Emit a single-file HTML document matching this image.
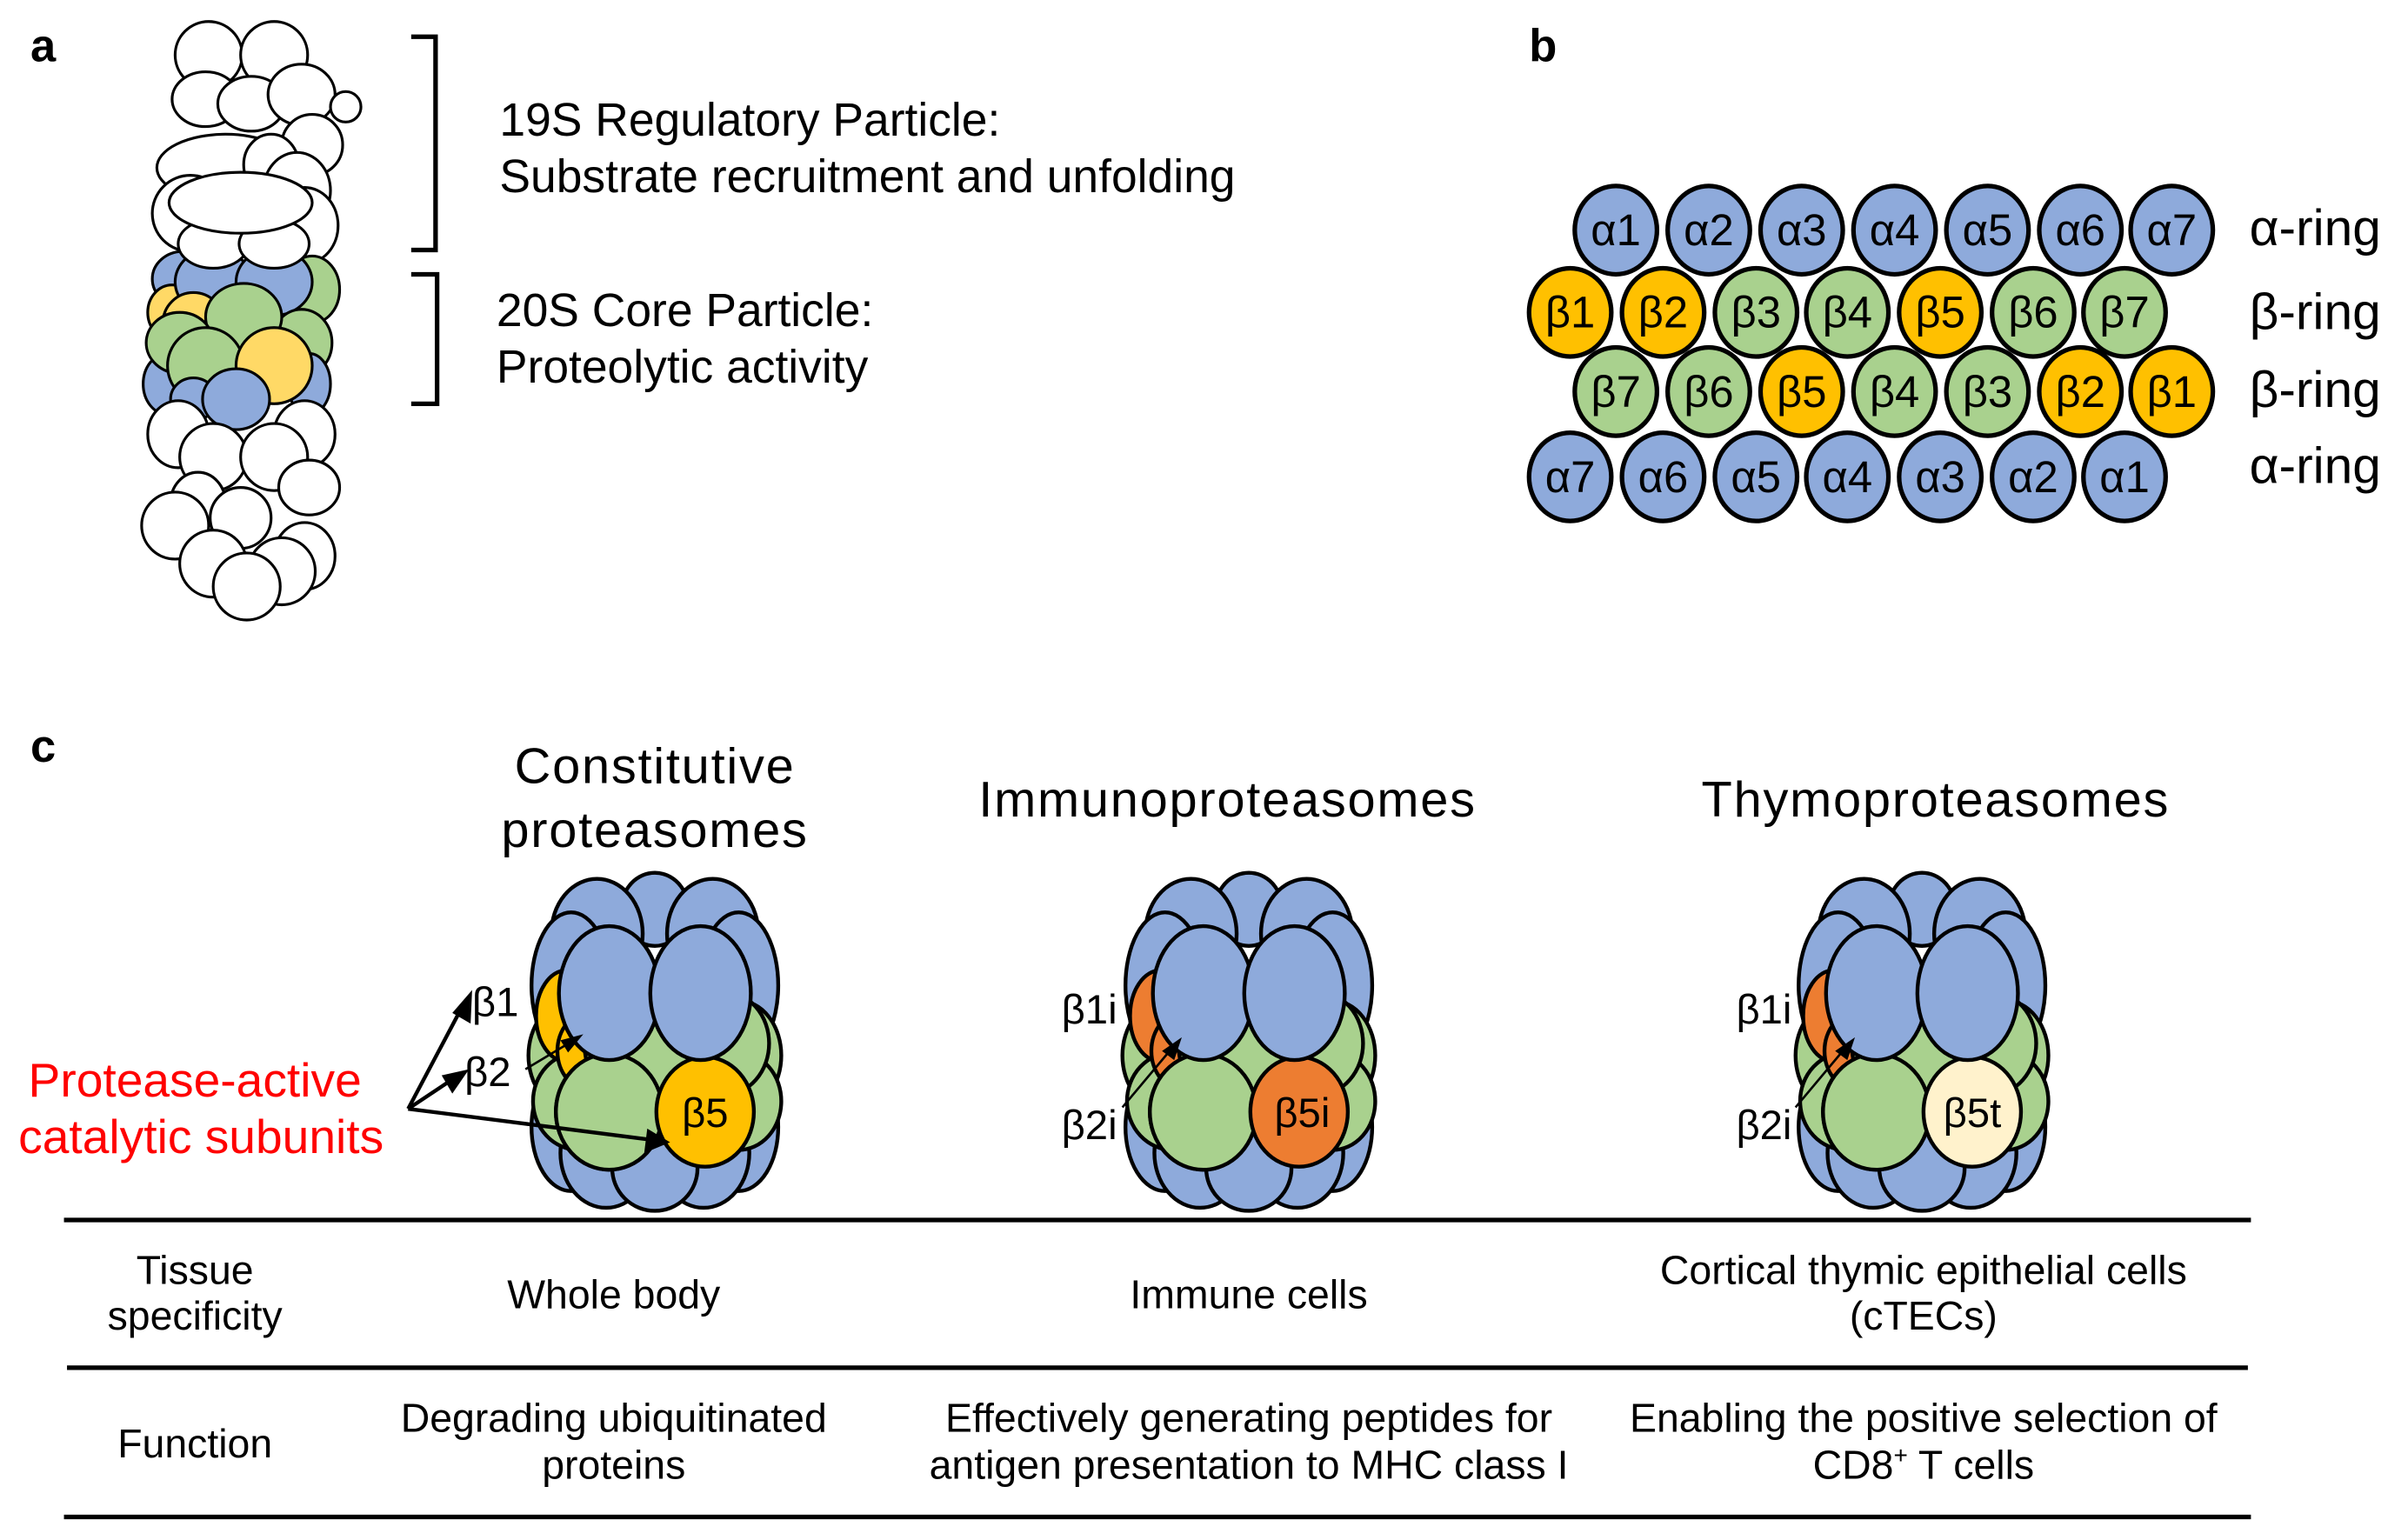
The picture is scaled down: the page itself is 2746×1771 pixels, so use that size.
<!DOCTYPE html>
<html><head><meta charset="utf-8"><style>
html,body{margin:0;padding:0;background:#fff;}
svg{display:block;}
text{font-family:"Liberation Sans",Arial,sans-serif;fill:#000;}
</style></head><body>
<svg width="2746" height="1771" viewBox="0 0 1568 1011" xmlns="http://www.w3.org/2000/svg">
<defs>
<g id="body" stroke="#000" stroke-width="2.5">
  <g fill="#8eaadb">
    <ellipse cx="0" cy="-88" rx="22" ry="24"/>
    <ellipse cx="-38" cy="-72" rx="30" ry="36"/>
    <ellipse cx="38" cy="-72" rx="30" ry="36"/>
    <ellipse cx="-55" cy="-38" rx="26" ry="48"/>
    <ellipse cx="55" cy="-38" rx="26" ry="48"/>
    <ellipse cx="-55" cy="55" rx="26" ry="42"/>
    <ellipse cx="55" cy="55" rx="26" ry="42"/>
    <ellipse cx="-32" cy="72" rx="30" ry="36"/>
    <ellipse cx="32" cy="72" rx="30" ry="36"/>
    <ellipse cx="0" cy="82" rx="28" ry="28"/>
  </g>
  <g fill="#a9d18e">
    <ellipse cx="-55" cy="8" rx="28" ry="36"/>
    <ellipse cx="55" cy="8" rx="28" ry="36"/>
    <ellipse cx="-50" cy="38" rx="30" ry="32"/>
    <ellipse cx="55" cy="38" rx="28" ry="32"/>
    <ellipse cx="-8" cy="3" rx="38" ry="34"/>
    <ellipse cx="45" cy="0" rx="30" ry="34"/>
    <ellipse cx="-30" cy="45" rx="35" ry="38"/>
  </g>
</g>
<g id="topfront" stroke="#000" stroke-width="2.5" fill="#8eaadb">
  <ellipse cx="-30" cy="-33" rx="33" ry="44"/>
  <ellipse cx="30" cy="-33" rx="33" ry="44"/>
</g>
</defs>

<text x="20" y="40" font-size="30" font-weight="bold">a</text>
<text x="1004" y="40" font-size="30" font-weight="bold">b</text>
<text x="20" y="500" font-size="30" font-weight="bold">c</text>

<g stroke="#000" stroke-width="1.8" fill="#fff">
  <circle cx="137" cy="36" r="22"/><circle cx="180" cy="36" r="22"/>
  <ellipse cx="135" cy="65" rx="22" ry="18"/><ellipse cx="165" cy="68" rx="22" ry="18"/><ellipse cx="198" cy="62" rx="22" ry="20"/>
  <circle cx="227" cy="70" r="10"/>
  <ellipse cx="205" cy="95" rx="20" ry="20"/>
  <ellipse cx="148" cy="110" rx="45" ry="22"/>
  <ellipse cx="178" cy="108" rx="18" ry="20"/>
  <ellipse cx="195" cy="125" rx="22" ry="25"/>
  <ellipse cx="125" cy="140" rx="25" ry="25"/>
  <ellipse cx="200" cy="148" rx="22" ry="25"/>
</g>
<g stroke="#000" stroke-width="1.8">
  <ellipse cx="120" cy="183" rx="20" ry="18" fill="#8eaadb"/>
  <ellipse cx="205" cy="190" rx="18" ry="22" fill="#a9d18e"/>
  <ellipse cx="113" cy="205" rx="16" ry="18" fill="#ffd966"/>
  <ellipse cx="140" cy="185" rx="25" ry="22" fill="#8eaadb"/>
  <ellipse cx="180" cy="185" rx="25" ry="22" fill="#8eaadb"/>
  <ellipse cx="127" cy="212" rx="20" ry="20" fill="#ffd966"/>
  <ellipse cx="198" cy="225" rx="20" ry="22" fill="#a9d18e"/>
  <ellipse cx="160" cy="208" rx="25" ry="22" fill="#a9d18e"/>
  <ellipse cx="110" cy="252" rx="16" ry="20" fill="#8eaadb"/>
  <ellipse cx="203" cy="252" rx="14" ry="20" fill="#8eaadb"/>
  <ellipse cx="118" cy="225" rx="22" ry="20" fill="#a9d18e"/>
  <ellipse cx="135" cy="240" rx="25" ry="25" fill="#a9d18e"/>
  <ellipse cx="180" cy="240" rx="25" ry="25" fill="#ffd966"/>
  <ellipse cx="127" cy="262" rx="15" ry="14" fill="#8eaadb"/>
  <ellipse cx="155" cy="262" rx="22" ry="20" fill="#8eaadb"/>
</g>
<g stroke="#000" stroke-width="1.8" fill="#fff">
  <ellipse cx="140" cy="160" rx="23" ry="16"/>
  <ellipse cx="180" cy="160" rx="23" ry="16"/>
  <ellipse cx="158" cy="133" rx="47" ry="20"/>
</g>
<g stroke="#000" stroke-width="1.8" fill="#fff">
  <ellipse cx="117" cy="285" rx="20" ry="22"/>
  <ellipse cx="200" cy="285" rx="20" ry="22"/>
  <ellipse cx="140" cy="300" rx="22" ry="22"/>
  <ellipse cx="180" cy="300" rx="22" ry="22"/>
  <ellipse cx="203" cy="320" rx="20" ry="18"/>
  <ellipse cx="130" cy="330" rx="18" ry="20"/>
  <ellipse cx="158" cy="340" rx="20" ry="20"/>
  <ellipse cx="115" cy="345" rx="22" ry="22"/>
  <ellipse cx="200" cy="365" rx="20" ry="22"/>
  <ellipse cx="140" cy="370" rx="22" ry="22"/>
  <ellipse cx="185" cy="375" rx="22" ry="22"/>
  <ellipse cx="162" cy="385" rx="22" ry="22"/>
</g>

<path d="M270 24 H286 V164 H270" fill="none" stroke="#000" stroke-width="3"/>
<path d="M270 180 H287 V265 H270" fill="none" stroke="#000" stroke-width="3"/>
<g font-size="30.5">
<text x="328" y="89">19S Regulatory Particle:</text>
<text x="328" y="126">Substrate recruitment and unfolding</text>
<text x="326" y="214">20S Core Particle:</text>
<text x="326" y="251">Proteolytic activity</text>
</g>

<g stroke="#000" stroke-width="3">
  <g fill="#8eaadb">
    <ellipse cx="1061" cy="151" rx="27" ry="29"/><ellipse cx="1122" cy="151" rx="27" ry="29"/><ellipse cx="1183" cy="151" rx="27" ry="29"/><ellipse cx="1244" cy="151" rx="27" ry="29"/><ellipse cx="1305" cy="151" rx="27" ry="29"/><ellipse cx="1366" cy="151" rx="27" ry="29"/><ellipse cx="1426" cy="151" rx="27" ry="29"/>
    <ellipse cx="1031" cy="313" rx="27" ry="29"/><ellipse cx="1092" cy="313" rx="27" ry="29"/><ellipse cx="1153" cy="313" rx="27" ry="29"/><ellipse cx="1213" cy="313" rx="27" ry="29"/><ellipse cx="1274" cy="313" rx="27" ry="29"/><ellipse cx="1335" cy="313" rx="27" ry="29"/><ellipse cx="1395" cy="313" rx="27" ry="29"/>
  </g>
  <ellipse cx="1031" cy="205" rx="27" ry="29" fill="#ffc000"/><ellipse cx="1092" cy="205" rx="27" ry="29" fill="#ffc000"/><ellipse cx="1153" cy="205" rx="27" ry="29" fill="#a9d18e"/><ellipse cx="1213" cy="205" rx="27" ry="29" fill="#a9d18e"/><ellipse cx="1274" cy="205" rx="27" ry="29" fill="#ffc000"/><ellipse cx="1335" cy="205" rx="27" ry="29" fill="#a9d18e"/><ellipse cx="1395" cy="205" rx="27" ry="29" fill="#a9d18e"/>
  <ellipse cx="1061" cy="257" rx="27" ry="29" fill="#a9d18e"/><ellipse cx="1122" cy="257" rx="27" ry="29" fill="#a9d18e"/><ellipse cx="1183" cy="257" rx="27" ry="29" fill="#ffc000"/><ellipse cx="1244" cy="257" rx="27" ry="29" fill="#a9d18e"/><ellipse cx="1305" cy="257" rx="27" ry="29" fill="#a9d18e"/><ellipse cx="1366" cy="257" rx="27" ry="29" fill="#ffc000"/><ellipse cx="1426" cy="257" rx="27" ry="29" fill="#ffc000"/>
</g>
<g font-size="29" text-anchor="middle">
  <text x="1061" y="161">α1</text><text x="1122" y="161">α2</text><text x="1183" y="161">α3</text><text x="1244" y="161">α4</text><text x="1305" y="161">α5</text><text x="1366" y="161">α6</text><text x="1426" y="161">α7</text>
  <text x="1031" y="215">β1</text><text x="1092" y="215">β2</text><text x="1153" y="215">β3</text><text x="1213" y="215">β4</text><text x="1274" y="215">β5</text><text x="1335" y="215">β6</text><text x="1395" y="215">β7</text>
  <text x="1061" y="267">β7</text><text x="1122" y="267">β6</text><text x="1183" y="267">β5</text><text x="1244" y="267">β4</text><text x="1305" y="267">β3</text><text x="1366" y="267">β2</text><text x="1426" y="267">β1</text>
  <text x="1031" y="323">α7</text><text x="1092" y="323">α6</text><text x="1153" y="323">α5</text><text x="1213" y="323">α4</text><text x="1274" y="323">α3</text><text x="1335" y="323">α2</text><text x="1395" y="323">α1</text>
</g>
<g font-size="33.5">
  <text x="1477" y="161">α-ring</text><text x="1477" y="216">β-ring</text><text x="1477" y="267">β-ring</text><text x="1477" y="317">α-ring</text>
</g>

<g font-size="33" text-anchor="middle" letter-spacing="1">
  <text x="430" y="514">Constitutive</text>
  <text x="430" y="556">proteasomes</text>
  <text x="806" y="536">Immunoproteasomes</text>
  <text x="1271" y="536">Thymoproteasomes</text>
</g>

<g transform="translate(430,685)">
  <use href="#body"/>
  <g stroke="#000" stroke-width="2.5">
    <ellipse cx="-58" cy="-18" rx="20" ry="30" fill="#ffc000"/>
    <ellipse cx="-42" cy="5" rx="22" ry="26" fill="#ffc000"/>
    <ellipse cx="-8" cy="3" rx="38" ry="34" fill="#a9d18e"/>
    <ellipse cx="-30" cy="45" rx="35" ry="38" fill="#a9d18e"/>
    <ellipse cx="33" cy="45" rx="32" ry="36" fill="#ffc000"/>
  </g>
  <use href="#topfront"/>
  <text x="33" y="55" font-size="27" text-anchor="middle">β5</text>
</g>
<g transform="translate(820,685)">
  <use href="#body"/>
  <g stroke="#000" stroke-width="2.5">
    <ellipse cx="-58" cy="-18" rx="20" ry="30" fill="#ed7d31"/>
    <ellipse cx="-42" cy="5" rx="22" ry="26" fill="#ed7d31"/>
    <ellipse cx="-8" cy="3" rx="38" ry="34" fill="#a9d18e"/>
    <ellipse cx="-30" cy="45" rx="35" ry="38" fill="#a9d18e"/>
    <ellipse cx="33" cy="45" rx="32" ry="36" fill="#ed7d31"/>
  </g>
  <use href="#topfront"/>
  <text x="35" y="55" font-size="27" text-anchor="middle">β5i</text>
</g>
<g transform="translate(1262,685)">
  <use href="#body"/>
  <g stroke="#000" stroke-width="2.5">
    <ellipse cx="-58" cy="-18" rx="20" ry="30" fill="#ed7d31"/>
    <ellipse cx="-42" cy="5" rx="22" ry="26" fill="#ed7d31"/>
    <ellipse cx="-8" cy="3" rx="38" ry="34" fill="#a9d18e"/>
    <ellipse cx="-30" cy="45" rx="35" ry="38" fill="#a9d18e"/>
    <ellipse cx="33" cy="45" rx="32" ry="36" fill="#fff2cc"/>
  </g>
  <use href="#topfront"/>
  <text x="33" y="55" font-size="27" text-anchor="middle">β5t</text>
</g>

<g font-size="31.5" text-anchor="middle">
  <text x="128" y="720" style="fill:#ff0000">Protease-active</text>
  <text x="132" y="757" style="fill:#ff0000">catalytic subunits</text>
</g>
<g stroke="#000" stroke-width="2.5" fill="none">
  <line x1="268" y1="728" x2="304" y2="660"/>
  <line x1="268" y1="728" x2="298" y2="708"/>
  <line x1="268" y1="728" x2="425" y2="748"/>
  <line x1="345" y1="702" x2="375" y2="684" stroke-width="1.5"/>
  <line x1="737" y1="727" x2="768" y2="690" stroke-width="1.5"/>
  <line x1="1179" y1="727" x2="1210" y2="690" stroke-width="1.5"/>
</g>
<g fill="#000">
  <polygon points="310,650 309,672 297,665"/>
  <polygon points="308,702 297,718 290,706"/>
  <polygon points="440,750 423,757 425,741"/>
  <polygon points="383,679 373,691 368,683"/>
  <polygon points="776,681 771,696 763,690"/>
  <polygon points="1218,681 1213,696 1205,690"/>
</g>
<g font-size="27">
  <text x="310" y="667">β1</text>
  <text x="305" y="713">β2</text>
  <text x="697" y="672">β1i</text>
  <text x="697" y="748">β2i</text>
  <text x="1140" y="672">β1i</text>
  <text x="1140" y="748">β2i</text>
</g>

<g stroke="#000" stroke-width="3">
  <line x1="42" y1="801" x2="1478" y2="801"/>
  <line x1="44" y1="898" x2="1476" y2="898"/>
  <line x1="42" y1="996" x2="1478" y2="996"/>
</g>
<g font-size="26.5" text-anchor="middle">
  <text x="128" y="843">Tissue</text>
  <text x="128" y="873">specificity</text>
  <text x="403" y="859">Whole body</text>
  <text x="820" y="859">Immune cells</text>
  <text x="1263" y="843">Cortical thymic epithelial cells</text>
  <text x="1263" y="873">(cTECs)</text>
  <text x="128" y="957">Function</text>
  <text x="403" y="940">Degrading ubiquitinated</text>
  <text x="403" y="971">proteins</text>
  <text x="820" y="940">Effectively generating peptides for</text>
  <text x="820" y="971">antigen presentation to MHC class I</text>
  <text x="1263" y="940">Enabling the positive selection of</text>
  <text x="1263" y="971">CD8<tspan font-size="16" dy="-10">+</tspan><tspan dy="10"> T cells</tspan></text>
</g>
</svg>
</body></html>
